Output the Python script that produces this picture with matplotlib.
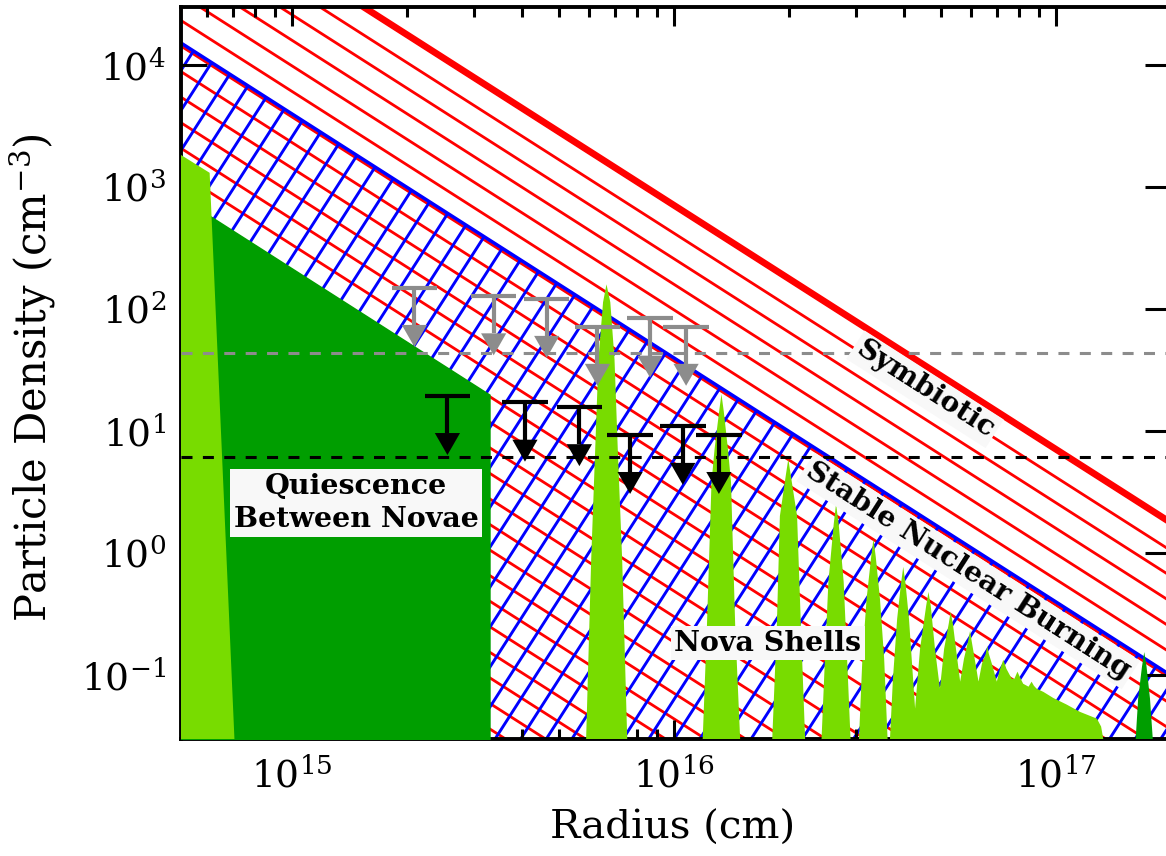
"""Particle density vs radius: symbiotic / stable nuclear burning regimes,
nova shells, quiescent medium and upper limits."""

import matplotlib
matplotlib.use("Agg")
import matplotlib.pyplot as plt
import numpy as np
from matplotlib.ticker import LogLocator, NullLocator, NullFormatter

plt.rcParams.update({
    "font.family": "DejaVu Serif",
    "mathtext.fontset": "dejavuserif",
    "axes.linewidth": 2.8,
})

RED = "#ff0000"
BLUE = "#0000ff"
DARK_GREEN = "#009e00"
LIGHT_GREEN = "#78dc00"
GRAY = "#8c8c8c"

# n = C r^-2 laws, log10 C
LOG_C_SYMBIOTIC = 34.855
LOG_C_STABLE = 33.60

# quiescent medium between eruptions (top edge, filled to the bottom)
quiesc_r = [4.0e14, 3.30e15]
quiesc_n = [1368.0, 20.1]

# nova shells silhouette (log10 r [cm], log10 n [cm^-3])
shell_log_r = [
    14.60, 14.60, 14.707, 14.784, 14.850,
    15.769, 15.783, 15.793, 15.802, 15.814, 15.823, 15.833, 15.844, 15.853, 15.864, 15.878,
    16.074, 16.086, 16.098, 16.106, 16.118, 16.124, 16.130, 16.141, 16.149, 16.160, 16.174,
    16.256, 16.269, 16.277, 16.293, 16.299, 16.305, 16.322, 16.332, 16.344,
    16.385, 16.395, 16.404, 16.418, 16.424, 16.431, 16.444, 16.453, 16.463,
    16.483, 16.493, 16.504, 16.516, 16.522, 16.528, 16.539, 16.550, 16.560,
    16.564, 16.573, 16.584, 16.594, 16.600, 16.606, 16.615, 16.623, 16.631,
    16.644, 16.660, 16.666, 16.672, 16.683, 16.696,
    16.707, 16.719, 16.724, 16.730, 16.738, 16.749,
    16.759, 16.770, 16.775, 16.779, 16.787, 16.797,
    16.806, 16.816, 16.820, 16.824, 16.832, 16.845,
    16.852, 16.862, 16.870, 16.884,
    16.891, 16.899, 16.906, 16.914,
    16.928, 16.936, 16.942, 16.949,
    16.967, 16.993, 17.028, 17.063, 17.107, 17.118, 17.128,
]
shell_log_n = [
    -1.6, 3.48, 3.268, 3.118, -1.6,
    -1.6, -0.047, 0.813, 1.590, 2.057, 2.204, 2.057, 1.590, 0.813, -0.047, -1.6,
    -1.6, -0.595, 0.583, 0.854, 1.164, 1.304, 1.164, 0.854, 0.583, -0.595, -1.6,
    -1.6, -0.595, 0.305, 0.649, 0.772, 0.649, 0.305, -0.595, -1.6,
    -1.6, -0.865, -0.235, 0.240, 0.403, 0.240, -0.235, -0.865, -1.6,
    -1.6, -0.865, -0.374, -0.030, 0.117, -0.030, -0.374, -0.865, -1.6,
    -1.6, -1.029, -0.538, -0.251, -0.112, -0.251, -0.538, -0.906, -1.274,
    -0.783, -0.431, -0.317, -0.431, -0.783, -1.110,
    -0.783, -0.579, -0.480, -0.579, -0.783, -1.053,
    -0.865, -0.718, -0.636, -0.718, -0.865, -1.053,
    -0.906, -0.824, -0.759, -0.824, -0.906, -1.053,
    -0.963, -0.873, -0.947, -1.029,
    -1.029, -0.971, -1.020, -1.070,
    -1.094, -1.053, -1.086, -1.110,
    -1.137, -1.187, -1.241, -1.301, -1.356, -1.421, -1.6,
]

# outermost (dark) shell at the right edge
outer_log_r = [17.207, 17.215, 17.225, 17.231, 17.237, 17.246, 17.255]
outer_log_n = [-1.6, -1.192, -0.930, -0.810, -0.930, -1.192, -1.6]

# upper limits
gray_lim_r = [2.09e15, 3.37e15, 4.64e15, 6.30e15, 8.65e15, 1.075e16]
gray_lim_n = [150.0, 128.0, 122.0, 72.0, 84.0, 72.0]
black_lim_r = [2.55e15, 4.07e15, 5.65e15, 7.67e15, 1.054e16, 1.31e16]
black_lim_n = [19.5, 17.2, 15.8, 9.35, 11.1, 9.35]
gray_level = 44.0
black_level = 6.1


def upper_limits(ax, r, n, color):
    for ri, ni in zip(r, n):
        tip = ni * 10**-0.485
        head = tip * 10**0.18
        ax.plot([ri * 10**-0.0594, ri * 10**0.0594], [ni, ni], color=color,
                lw=3.0, solid_capstyle="butt", zorder=6)
        ax.plot([ri, ri], [ni, head], color=color, lw=3.0,
                solid_capstyle="butt", zorder=6)
        ax.fill([ri * 10**-0.033, ri * 10**0.033, ri], [head, head, tip],
                color=color, lw=0, zorder=6)


def main():
    fig = plt.figure(figsize=(11.66, 8.56), dpi=100)
    ax = fig.add_axes([181 / 1166, 1 - 739 / 856, 990 / 1166, 732 / 856])
    ax.set_xscale("log")
    ax.set_yscale("log")
    ax.set_xlim(10**14.709, 10**17.301)
    ax.set_ylim(0.03, 3.0e4)

    # red hatching below the symbiotic line
    lr = np.array([14.0, 18.0])
    for lc in 33.575 + 0.2095 * np.arange(-30, 7):
        ax.plot(10**lr, 10**(lc - 2 * lr), color=RED, lw=2.0, zorder=1)
    # blue cross hatching below the stable-burning line
    slope = 4.886
    for b in -67.911 + 0.3275 * np.arange(-62, 3):
        x_top = (LOG_C_STABLE - b) / (slope + 2)
        x_bot = (-2.5 - b) / slope
        ax.plot(10**np.array([x_bot, x_top]),
                10**np.array([-2.5, LOG_C_STABLE - 2 * x_top]),
                color=BLUE, lw=2.1, solid_capstyle="butt", zorder=1.5)
    ax.plot(10**lr, 10**(LOG_C_STABLE - 2 * lr), color=BLUE, lw=2.5, zorder=2)
    ax.plot(10**lr, 10**(LOG_C_SYMBIOTIC - 2 * lr), color=RED, lw=4.3, zorder=2)

    ax.fill_between(quiesc_r, quiesc_n, 1e-3, color=DARK_GREEN, lw=0, zorder=3)
    ax.fill(10**np.array(shell_log_r), 10**np.array(shell_log_n),
            color=LIGHT_GREEN, lw=0, zorder=3.2)
    ax.fill(10**np.array(outer_log_r), 10**np.array(outer_log_n),
            color=DARK_GREEN, lw=0, zorder=3.2)

    ax.axhline(gray_level, color=GRAY, lw=2.2, ls=(0, (3.6, 3.4)), zorder=5)
    ax.axhline(black_level, color="black", lw=2.2, ls=(0, (3.6, 3.4)), zorder=5)
    upper_limits(ax, gray_lim_r, gray_lim_n, GRAY)
    upper_limits(ax, black_lim_r, black_lim_n, "black")

    box = dict(boxstyle="square,pad=0.12", fc="#f8f8f8", ec="none")
    tkw = dict(ha="center", va="center", fontweight="bold", bbox=box,
               zorder=7, rotation_mode="anchor")
    ax.text(10**15.1675, 10**0.412, "Quiescence\nBetween Novae",
            fontsize=20.5, linespacing=1.32, **tkw)
    ax.text(10**16.245, 10**-0.737, "Nova Shells", fontsize=20.5, **tkw)
    ax.text(10**16.657, 10**1.344, "Symbiotic", fontsize=20.5,
            rotation=-32.6, **tkw)
    ax.text(10**16.770, 10**-0.145, "Stable Nuclear Burning", fontsize=20.5,
            rotation=-32.6, **tkw)

    ax.xaxis.set_major_locator(LogLocator(base=10, numticks=10))
    ax.xaxis.set_minor_locator(LogLocator(base=10, subs=np.arange(2, 10),
                                          numticks=40))
    ax.xaxis.set_minor_formatter(NullFormatter())
    ax.yaxis.set_major_locator(LogLocator(base=10, numticks=12))
    ax.yaxis.set_minor_locator(NullLocator())
    ax.yaxis.set_minor_formatter(NullFormatter())
    ax.tick_params(which="both", direction="in", top=True, right=True,
                   width=2.2, labelsize=27)
    ax.tick_params(axis="x", which="major", length=14, pad=13)
    ax.tick_params(axis="x", which="minor", length=7)
    ax.tick_params(axis="y", which="major", length=19, pad=11)

    ax.set_xlabel("Radius (cm)", fontsize=29)
    ax.set_ylabel("Particle Density (cm$^{-3}$)", fontsize=30)
    ax.xaxis.set_label_coords(0.4965, -0.097)
    ax.yaxis.set_label_coords(-0.124, 0.494)

    fig.savefig("out.png", dpi=100)
    plt.close(fig)


if __name__ == "__main__":
    main()
